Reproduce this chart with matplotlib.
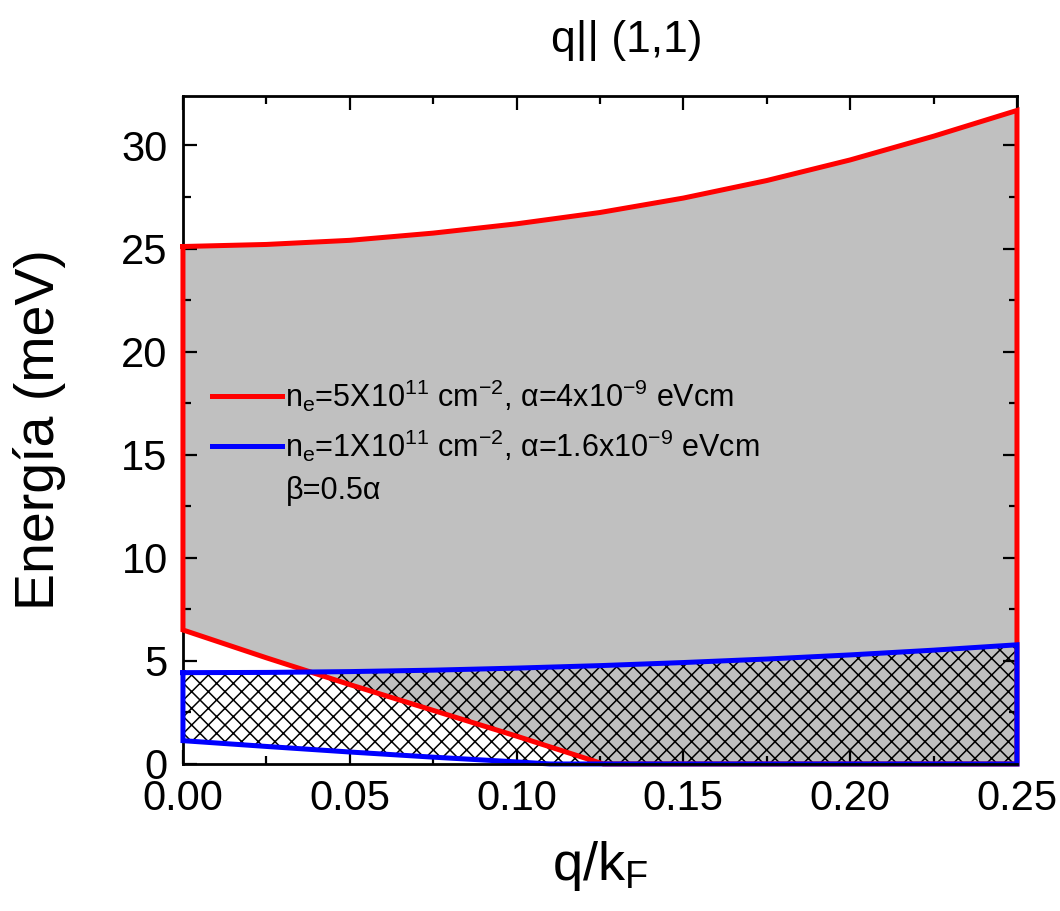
import numpy as np
import matplotlib
matplotlib.use('Agg')
import matplotlib.pyplot as plt
from matplotlib.lines import Line2D

plt.rcParams['font.family'] = ['Liberation Sans', 'DejaVu Sans']
plt.rcParams['mathtext.fontset'] = 'custom'
plt.rcParams['mathtext.rm'] = 'Liberation Sans'
plt.rcParams['mathtext.it'] = 'Liberation Sans:italic'
plt.rcParams['hatch.linewidth'] = 1.1

# Data
q = [0.0, 0.025, 0.05, 0.075, 0.10, 0.125, 0.15, 0.175, 0.20, 0.225, 0.25]

# n_e = 5e11, alpha = 4e-9 : upper / lower limits
red_upper = [25.1, 25.2, 25.4, 25.75, 26.2, 26.75, 27.45, 28.3, 29.3, 30.45, 31.7]
q_red_low = [0.0, 0.025, 0.05, 0.075, 0.10, 0.126, 0.25]
red_lower = [6.5, 5.15, 3.85, 2.6, 1.35, 0.0, 0.0]

# n_e = 1e11, alpha = 1.6e-9 : upper / lower limits
blue_upper = [4.43, 4.44, 4.48, 4.55, 4.65, 4.77, 4.92, 5.09, 5.29, 5.52, 5.78]
q_blue_low = [0.0, 0.025, 0.05, 0.075, 0.10, 0.11, 0.25]
blue_lower = [1.13, 0.85, 0.58, 0.33, 0.1, 0.0, 0.0]

fig = plt.figure(figsize=(10.6, 9.11), dpi=100)
ax = fig.add_axes([0.1726, 0.1614, 0.7868, 0.7332])

# closed outlines: upper curve forward, lower curve backward
red_x = np.concatenate([q, q_red_low[::-1], [q[0]]])
red_y = np.concatenate([red_upper, red_lower[::-1], [red_upper[0]]])
blue_x = np.concatenate([q, q_blue_low[::-1], [q[0]]])
blue_y = np.concatenate([blue_upper, blue_lower[::-1], [blue_upper[0]]])

ax.fill(red_x, red_y, facecolor='#c0c0c0', edgecolor='none', zorder=1)
ax.fill(blue_x, blue_y, facecolor='none', edgecolor='black', hatch='xx',
        linewidth=0, zorder=2)
ax.plot(red_x, red_y, color='red', lw=3.6, zorder=3, clip_on=False,
        solid_joinstyle='miter')
ax.plot(blue_x, blue_y, color='blue', lw=3.6, zorder=3.5, clip_on=False,
        solid_joinstyle='miter')

ax.set_xlim(0, 0.25)
ax.set_ylim(0, 32.4)
ax.set_xticks(np.arange(0, 0.2501, 0.05))
ax.set_xticks(np.arange(0.025, 0.25, 0.05), minor=True)
ax.set_yticks(np.arange(0, 31, 5))
ax.set_yticks(np.arange(2.5, 32.4, 5), minor=True)
ax.xaxis.set_major_formatter(matplotlib.ticker.FormatStrFormatter('%.2f'))

ax.tick_params(which='both', direction='in', top=True, right=True, width=1.6)
ax.tick_params(which='major', length=10, labelsize=30)
ax.tick_params(which='minor', length=6)
ax.tick_params(axis='y', pad=11)
ax.tick_params(axis='x', pad=11)
for s in ax.spines.values():
    s.set_linewidth(2)
ax.spines['bottom'].set_zorder(4)

ax.set_title('q|| (1,1)', fontsize=32, pad=32, x=0.532)
ax.set_xlabel(r'q/k$_\mathregular{F}$', fontsize=39, labelpad=14)
ax.set_ylabel('Energía (meV)', fontsize=40, labelpad=40)

handles = [Line2D([], [], color='red', lw=3.6),
           Line2D([], [], color='blue', lw=3.6),
           Line2D([], [], color='none')]
labels = [r'n$_\mathregular{e}$=5X10$^\mathregular{11}$ cm$^\mathregular{-2}$, α=4x10$^\mathregular{-9}$ eVcm',
          r'n$_\mathregular{e}$=1X10$^\mathregular{11}$ cm$^\mathregular{-2}$, α=1.6x10$^\mathregular{-9}$ eVcm',
          'β=0.5α']
ax.legend(handles, labels, loc='upper left', bbox_to_anchor=(0.035, 0.578),
          frameon=False, fontsize=22, handlelength=2.3, handletextpad=0.1,
          borderaxespad=0, borderpad=0, labelspacing=0.42)

plt.savefig('out.png', dpi=100)
